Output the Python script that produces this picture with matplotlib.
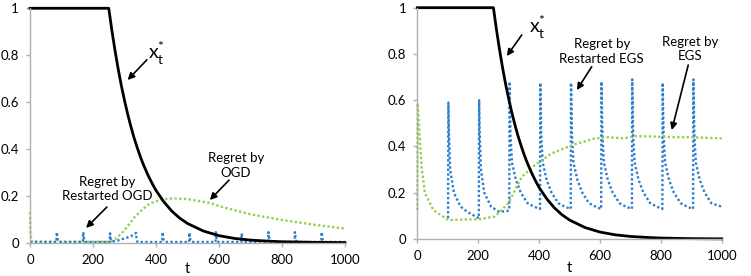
import matplotlib.pyplot as plt

plt.rcParams['font.family'] = ['Lato', 'DejaVu Sans']
plt.rcParams['mathtext.fontset'] = 'custom'
plt.rcParams['mathtext.rm'] = 'Lato'

# optimal point x*_t (same in both panels)
xs_t = [0, 250, 260, 270, 280, 290, 300, 310, 320, 330, 340, 350, 360, 375, 390,
        400, 425, 450, 475, 500, 550, 600, 650, 700, 750, 800, 900, 1000]
xs_v = [1.0, 1.0, 0.905, 0.819, 0.741, 0.670, 0.607, 0.549, 0.497, 0.449, 0.407,
        0.368, 0.333, 0.287, 0.247, 0.223, 0.174, 0.135, 0.105, 0.082, 0.050,
        0.030, 0.018, 0.011, 0.007, 0.004, 0.0015, 0.0006]

# left panel: regret by OGD (green)
ogd_t = [0, 1, 5, 100, 200, 255, 270, 291, 310, 333, 360, 381, 420, 455, 500,
         571, 600, 700, 800, 900, 1000]
ogd_v = [0.13, 0.05, 0.005, 0.004, 0.004, 0.004, 0.015, 0.04, 0.07, 0.111, 0.145,
         0.168, 0.184, 0.189, 0.186, 0.17, 0.156, 0.121, 0.097, 0.077, 0.06]

# left panel: regret by restarted OGD (blue)
rogd_t = [0, 84, 85, 88, 93, 168, 169, 172, 177, 253, 254, 257, 262, 280, 300,
          320, 337, 338, 341, 420, 421, 424, 429, 505, 506, 509, 514, 589, 590,
          593, 598, 671, 672, 675, 680, 756, 757, 760, 765, 840, 841, 844, 849,
          925, 926, 929, 934, 1000]
rogd_v = [0.003, 0.003, 0.045, 0.012, 0.003, 0.003, 0.045, 0.012, 0.003, 0.003,
          0.04, 0.012, 0.005, 0.01, 0.018, 0.027, 0.042, 0.02, 0.003, 0.003, 0.045,
          0.012, 0.003, 0.003, 0.042, 0.012, 0.003, 0.003, 0.045, 0.012, 0.003,
          0.003, 0.04, 0.012, 0.003, 0.003, 0.045, 0.012, 0.003, 0.003, 0.045,
          0.012, 0.003, 0.003, 0.045, 0.012, 0.003, 0.003]

# right panel: regret by EGS (green)
egs_t = [0, 1, 7, 14, 25, 53, 102, 150, 201, 255, 299, 343, 387, 441, 518, 584,
         628, 680, 715, 792, 850, 900, 1000]
egs_v = [0.125, 0.587, 0.457, 0.313, 0.198, 0.125, 0.082, 0.084, 0.085, 0.097,
         0.154, 0.269, 0.32, 0.37, 0.41, 0.435, 0.44, 0.435, 0.445, 0.442, 0.44,
         0.44, 0.435]

# right panel: regret by restarted EGS (blue)
regs_t = [101, 102, 104, 108, 120, 142, 167, 202,
          203, 205, 209, 220, 242, 268, 293, 302,
          303, 306, 311, 324, 340, 362, 383, 403,
          404, 407, 412, 425, 441, 463, 484, 504,
          505, 508, 513, 526, 542, 564, 585, 604,
          605, 608, 613, 626, 642, 664, 685, 705,
          706, 709, 714, 727, 743, 765, 786, 805,
          806, 809, 814, 827, 843, 865, 886, 906,
          907, 910, 915, 928, 944, 966, 987, 1000]
regs_v = [0.09, 0.59, 0.45, 0.3, 0.2, 0.14, 0.115, 0.09,
          0.60, 0.45, 0.3, 0.2, 0.14, 0.118, 0.12, 0.125,
          0.68, 0.45, 0.33, 0.255, 0.2, 0.155, 0.14, 0.13,
          0.675, 0.45, 0.33, 0.255, 0.2, 0.155, 0.14, 0.13,
          0.675, 0.45, 0.33, 0.255, 0.2, 0.155, 0.14, 0.13,
          0.68, 0.45, 0.33, 0.255, 0.2, 0.155, 0.14, 0.13,
          0.69, 0.45, 0.33, 0.255, 0.2, 0.155, 0.14, 0.13,
          0.675, 0.45, 0.33, 0.255, 0.2, 0.155, 0.14, 0.13,
          0.69, 0.45, 0.33, 0.255, 0.2, 0.155, 0.145, 0.14]

blue = '#2b7fcf'
green = '#92d050'
dots = (0, (1, 1))

fig = plt.figure(figsize=(7.51, 2.76), dpi=100)
ax1 = fig.add_axes([0.03995, 0.1207, 0.4194, 0.8493])
ax2 = fig.add_axes([0.5557, 0.1341, 0.4053, 0.8380])


def style(ax, lpad):
    ax.set_xlim(0, 1000)
    ax.set_ylim(0, 1)
    ax.set_xticks([0, 200, 400, 600, 800, 1000])
    ax.set_yticks([0, 0.2, 0.4, 0.6, 0.8, 1])
    ax.set_yticklabels(['0', '0.2', '0.4', '0.6', '0.8', '1'])
    for s in ['top', 'right']:
        ax.spines[s].set_visible(False)
    for s in ['left', 'bottom']:
        ax.spines[s].set_color('#b0b0b0')
        ax.spines[s].set_linewidth(1.0)
    ax.tick_params(length=3, width=1, color='#b0b0b0', labelsize=9.5, pad=5)
    ax.set_xlabel('t', fontsize=10.5, labelpad=lpad)


def arrow(ax, tail, tip):
    ax.annotate('', xy=tip, xytext=tail,
                arrowprops=dict(arrowstyle='-|>', color='black', lw=1.2,
                                mutation_scale=10, shrinkA=0, shrinkB=0))


star = r'x$_\mathrm{t}^{*}$'

# left panel
ax1.plot(ogd_t, ogd_v, color=green, lw=1.7, ls=dots, clip_on=False)
ax1.plot(rogd_t, rogd_v, color=blue, lw=1.7, ls=dots, clip_on=False)
ax1.plot(xs_t, xs_v, color='black', lw=2, clip_on=False)
style(ax1, -3)
ax1.text(400, 0.81, star, fontsize=14, ha='center', va='center')
arrow(ax1, (371, 0.78), (310, 0.694))
ax1.text(244, 0.229, 'Regret by\nRestarted OGD', fontsize=9.5, ha='center',
         va='center', linespacing=1.25)
arrow(ax1, (244, 0.152), (178, 0.063))
ax1.text(654, 0.329, 'Regret by\nOGD', fontsize=9.5, ha='center', va='center',
         linespacing=1.25)
arrow(ax1, (632, 0.267), (571, 0.182))

# right panel
ax2.plot(regs_t, regs_v, color=blue, lw=1.7, ls=dots, clip_on=False)
ax2.plot(egs_t, egs_v, color=green, lw=1.7, ls=dots, clip_on=False)
ax2.plot(xs_t, xs_v, color='black', lw=2, clip_on=False)
style(ax2, -1)
ax2.text(395, 0.915, star, fontsize=14, ha='center', va='center')
arrow(ax2, (343, 0.882), (294, 0.791))
ax2.text(606, 0.811, 'Regret by\nRestarted EGS', fontsize=9.5, ha='center',
         va='center', linespacing=1.25)
arrow(ax2, (573, 0.745), (524, 0.644))
ax2.text(896, 0.821, 'Regret by\nEGS', fontsize=9.5, ha='center', va='center',
         linespacing=1.25)
arrow(ax2, (890, 0.752), (836, 0.471))

fig.savefig('out.png', dpi=100)
